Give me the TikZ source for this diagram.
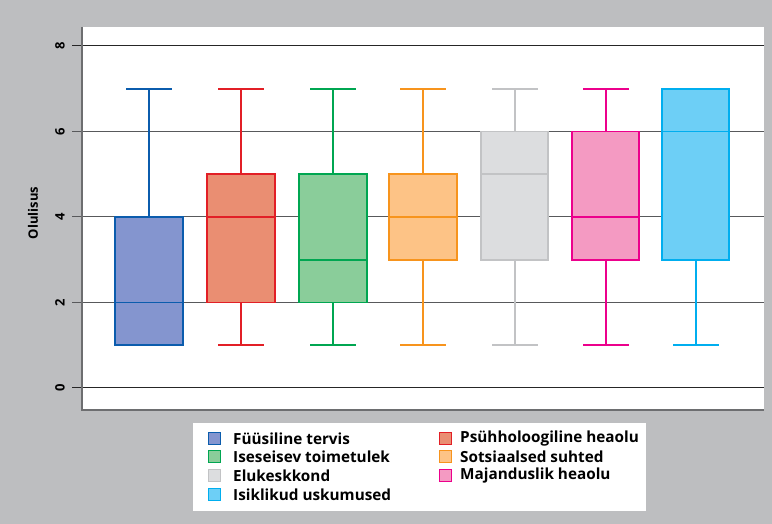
\documentclass[tikz,border=0pt]{standalone}
\usepackage{fontspec}
\setmainfont{Open Sans}
\definecolor{bggray}{HTML}{BDBEC0}
\definecolor{axgray}{HTML}{6D6E70}
\definecolor{gridgray}{HTML}{58595B}
\definecolor{fysL}{HTML}{0B5CAD}\definecolor{fysF}{HTML}{8495CF}
\definecolor{psyL}{HTML}{E21F26}\definecolor{psyF}{HTML}{EA8E72}
\definecolor{iseL}{HTML}{00A651}\definecolor{iseF}{HTML}{8ACD9A}
\definecolor{sotL}{HTML}{F7941D}\definecolor{sotF}{HTML}{FDC386}
\definecolor{eluL}{HTML}{C2C3C5}\definecolor{eluF}{HTML}{DCDDDF}
\definecolor{majL}{HTML}{EC008C}\definecolor{majF}{HTML}{F49AC2}
\definecolor{isiL}{HTML}{00AEEF}\definecolor{isiF}{HTML}{6DCFF6}

\begin{document}
\begin{tikzpicture}[x=1pt,y=1pt,line join=miter,
  grid/.style={gridgray,line width=1pt},
  bplot/.style={line width=1.8pt},
  tick/.style={font=\bfseries\fontsize{13}{16}\selectfont,rotate=90},
  legtext/.style={font=\bfseries\fontsize{15.3}{17}\selectfont,anchor=west,inner sep=0pt},
  legbox/.style={line width=1pt,minimum size=12pt,inner sep=0pt}]

% background and plot area
\fill[bggray] (0,0) rectangle (772,524);
\fill[white] (82,114) rectangle (764,497);
\fill[white] (193,13) rectangle (646,101);

\begin{scope}[shift={(0,136)},y=42.75pt]
% grid lines and ticks
\draw[grid,black!85] (72,0)--(764,0);
\draw[grid] (72,2)--(764,2);
\draw[grid] (72,4)--(764,4);
\draw[grid] (72,6)--(764,6);
\draw[grid,black!85] (72,8)--(764,8);
\node[tick] (t0) at (60,0) {0};
\node[tick] (t2) at (60,2) {2};
\node[tick] (t4) at (60,4) {4};
\node[tick] (t6) at (60,6) {6};
\node[tick] (t8) at (60,8) {8};

% Fuusiline tervis
\draw[bplot,fysL] (149,7)--(149,4) (126,7)--(172,7);
\draw[bplot,fysL,fill=fysF] (115,1) rectangle (183,4);
\draw[bplot,fysL] (115,2)--(183,2);
% Psuhholoogiline heaolu
\draw[bplot,psyL] (241,7)--(241,1) (218,7)--(264,7) (218,1)--(264,1);
\draw[bplot,psyL,fill=psyF] (207,2) rectangle (275,5);
\draw[bplot,psyL] (207,4)--(275,4);
% Iseseisev toimetulek
\draw[bplot,iseL] (333,7)--(333,1) (310,7)--(356,7) (310,1)--(356,1);
\draw[bplot,iseL,fill=iseF] (299,2) rectangle (367,5);
\draw[bplot,iseL] (299,3)--(367,3);
% Sotsiaalsed suhted
\draw[bplot,sotL] (423,7)--(423,1) (400,7)--(446,7) (400,1)--(446,1);
\draw[bplot,sotL,fill=sotF] (389,3) rectangle (457,5);
\draw[bplot,sotL] (389,4)--(457,4);
% Elukeskkond
\draw[bplot,eluL] (515,7)--(515,1) (492,7)--(538,7) (492,1)--(538,1);
\draw[bplot,eluL,fill=eluF] (481,3) rectangle (548,6);
\draw[bplot,eluL] (481,5)--(548,5);
% Majanduslik heaolu
\draw[bplot,majL] (606,7)--(606,1) (583,7)--(629,7) (583,1)--(629,1);
\draw[bplot,majL,fill=majF] (572,3) rectangle (639,6);
\draw[bplot,majL] (572,4)--(639,4);
% Isiklikud uskumused
\draw[bplot,isiL] (696,3)--(696,1) (673,1)--(719,1);
\draw[bplot,isiL,fill=isiF] (662,3) rectangle (729,7);
\draw[bplot,isiL] (662,6)--(729,6);
\end{scope}

% axes
\draw[axgray,line width=1.5pt] (82,497)--(82,114)--(764,114);
\node[tick] (ylab) at (33,311) {Olulisus};

% legend
\node[legbox,draw=fysL,fill=fysF] (m1) at (214,85) {};
\node[legbox,draw=iseL,fill=iseF] (m2) at (214,67) {};
\node[legbox,draw=eluL,fill=eluF] (m3) at (214,48) {};
\node[legbox,draw=isiL,fill=isiF] (m4) at (214,29) {};
\node[legbox,draw=psyL,fill=psyF] (m5) at (445,85) {};
\node[legbox,draw=sotL,fill=sotF] (m6) at (445,67) {};
\node[legbox,draw=majL,fill=majF] (m7) at (445,48) {};
\node[legtext] (l1) at (233,85) {Füüsiline tervis};
\node[legtext] (l2) at (233,67) {Iseseisev toimetulek};
\node[legtext] (l3) at (233,48) {Elukeskkond};
\node[legtext] (l4) at (233,29) {Isiklikud uskumused};
\node[legtext] (l5) at (460,85) {Psühholoogiline heaolu};
\node[legtext] (l6) at (460,67) {Sotsiaalsed suhted};
\node[legtext] (l7) at (460,48) {Majanduslik heaolu};
\end{tikzpicture}
\end{document}
